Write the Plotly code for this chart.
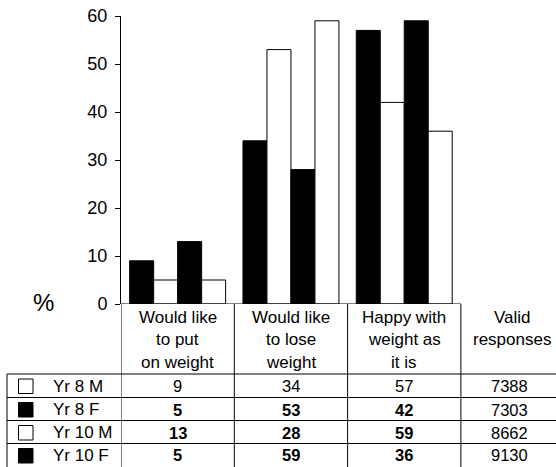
import plotly.graph_objects as go

# ---------------- data ----------------
categories = ["Would like<br>to put<br>on weight", "Would like<br>to lose<br>weight", "Happy with<br>weight as<br>it is"]
last_header = ["Valid", "responses"]
series_names = ["Yr 8 M", "Yr 8 F", "Yr 10 M", "Yr 10 F"]
bar_series = [
    [9, 34, 57],
    [5, 53, 42],
    [13, 28, 59],
    [5, 59, 36],
]
bar_colors = ["#000000", "#ffffff", "#000000", "#ffffff"]
legend_fill = ["#ffffff", "#000000", "#ffffff", "#000000"]
table_values = [
    [9, 34, 57],
    [5, 53, 42],
    [13, 28, 59],
    [5, 59, 36],
]
valid_responses = [7388, 7303, 8662, 9130]
row_bold = [False, True, True, True]
y_ticks = [0, 10, 20, 30, 40, 50, 60]

# ---------------- layout geometry ----------------
W, H = 556, 467
ML, MT, MB, MR = 121, 16, 163, 0
PW, PH = W - ML - MR, H - MT - MB
CAT_W = 113.3

def py(p):  # pixel y -> paper y
    return (H - MB - p) / PH

def px(p):  # pixel x -> paper x
    return (p - ML) / PW

FONT = "Liberation Sans, Arial, sans-serif"
TS = 17  # table font size

fig = go.Figure()
x_idx = list(range(len(categories)))
for name, vals, col in zip(series_names, bar_series, bar_colors):
    fig.add_trace(go.Bar(x=x_idx, y=vals, name=name,
                         marker=dict(color=col, line=dict(color="#000000", width=1))))

shapes = []
annotations = []

# x axis line over first three columns
shapes.append(dict(type="line", xref="x", yref="y", x0=-0.5, x1=len(categories) - 0.5, y0=0, y1=0,
                   line=dict(color="black", width=1)))
# y axis continuation down through table
shapes.append(dict(type="line", xref="x", yref="paper", x0=-0.5, x1=-0.5, y0=0, y1=py(H),
                   line=dict(color="black", width=1)))
# column separators
for i in range(len(categories)):
    shapes.append(dict(type="line", xref="x", yref="paper", x0=i + 0.5, x1=i + 0.5, y0=0, y1=py(H),
                       line=dict(color="black", width=1)))
# row lines
row_tops = [374, 397.5, 420.5, 443.5]
for r in row_tops:
    shapes.append(dict(type="line", xref="paper", yref="paper", x0=px(7), x1=1, y0=py(r), y1=py(r),
                       line=dict(color="black", width=1)))
# left border of legend column
shapes.append(dict(type="line", xref="paper", yref="paper", x0=px(7), x1=px(7), y0=py(374), y1=py(H),
                   line=dict(color="black", width=1)))

# header text
header_line_y = [317, 339.5, 362]
for i, cat in enumerate(categories):
    for j, line in enumerate(cat.split("<br>")):
        annotations.append(dict(x=i, xref="x", y=py(header_line_y[j]), yref="paper", text=line,
                                showarrow=False, xanchor="center", yanchor="middle",
                                font=dict(family=FONT, size=TS, color="black")))
for j, line in enumerate(last_header):
    annotations.append(dict(x=px(512), xref="paper", y=py(header_line_y[j]), yref="paper", text=line,
                            showarrow=False, xanchor="center", yanchor="middle",
                            font=dict(family=FONT, size=TS, color="black")))

# rows
row_centers = [386, 409.5, 432.5, 455.5]
for r, name in enumerate(series_names):
    yc = row_centers[r]
    shapes.append(dict(type="rect", xref="paper", yref="paper", x0=px(18.5), x1=px(33),
                       y0=py(yc - 7), y1=py(yc + 7.5), fillcolor=legend_fill[r],
                       line=dict(color="black", width=1)))
    annotations.append(dict(x=px(51), xref="paper", y=py(yc), yref="paper", text=name,
                            showarrow=False, xanchor="left", yanchor="middle",
                            font=dict(family=FONT, size=TS, color="black")))
    for i, v in enumerate(table_values[r]):
        t = f"<b>{v}</b>" if row_bold[r] else str(v)
        annotations.append(dict(x=i, xref="x", y=py(yc), yref="paper", text=t,
                                showarrow=False, xanchor="center", yanchor="middle",
                                font=dict(family=FONT, size=16.5, color="black")))
    annotations.append(dict(x=px(509), xref="paper", y=py(yc), yref="paper", text=str(valid_responses[r]),
                            showarrow=False, xanchor="center", yanchor="middle",
                            font=dict(family=FONT, size=16.5, color="black")))

# % label
annotations.append(dict(x=px(43), xref="paper", y=py(302), yref="paper", text="%",
                        showarrow=False, xanchor="center", yanchor="middle",
                        font=dict(family=FONT, size=24, color="black")))

fig.update_layout(
    width=W, height=H,
    margin=dict(l=ML, r=MR, t=MT, b=MB, pad=0),
    paper_bgcolor="white", plot_bgcolor="white",
    barmode="group", bargap=0.153, bargroupgap=0,
    showlegend=False,
    font=dict(family=FONT, color="black"),
    xaxis=dict(range=[-0.5, -0.5 + PW / CAT_W], showticklabels=False, showline=False,
               showgrid=False, zeroline=False, ticks=""),
    yaxis=dict(range=[0, 60], tickvals=y_ticks, showline=True, linecolor="black", linewidth=1,
               ticks="outside", ticklen=5, tickcolor="black", showgrid=False, zeroline=False,
               tickfont=dict(family=FONT, size=18, color="black"), ticklabelstandoff=4),
    shapes=shapes,
    annotations=annotations,
)

fig.write_html("out.html")
